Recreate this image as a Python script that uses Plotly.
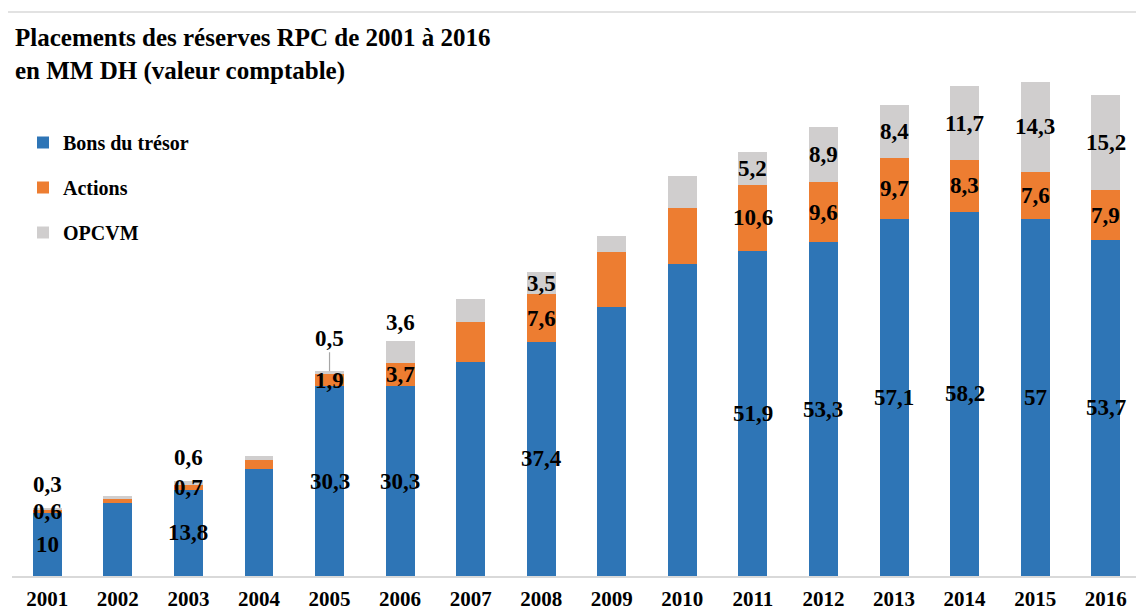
import plotly.graph_objects as go

years = [str(y) for y in range(2001, 2017)]
bons = [10, 11.6, 13.8, 17.1, 30.3, 30.3, 34.2, 37.4, 43.0, 49.9, 51.9, 53.3, 57.1, 58.2, 57, 53.7]
actions = [0.6, 0.7, 0.7, 1.4, 1.9, 3.7, 6.4, 7.6, 8.7, 8.9, 10.6, 9.6, 9.7, 8.3, 7.6, 7.9]
opcvm = [0.3, 0.5, 0.6, 0.7, 0.5, 3.6, 3.6, 3.5, 2.6, 5.1, 5.2, 8.9, 8.4, 11.7, 14.3, 15.2]

# which years carry data labels
labelled = [True, False, True, False, True, True, False, True, False, False, True, True, True, True, True, True]

series_names = ["Bons du trésor", "Actions", "OPCVM"]
colors = ["#2E75B6", "#ED7D31", "#D0CECE"]

FONT = "Liberation Serif"

fig = go.Figure()
for name, vals, col in zip(series_names, [bons, actions, opcvm], colors):
    fig.add_trace(go.Bar(
        x=years, y=vals, name=name, marker=dict(color=col, line=dict(width=0)),
        legendgroup=name, hoverinfo="x+y+name",
    ))

def fmt(v):
    return ("%g" % v).replace(".", ",")

# label offsets (pixels) for labels moved above the stack (style only)
above_shift = {"2001": 23, "2003": 24, "2005": 33, "2006": 18}

annotations = []
for i, yr in enumerate(years):
    if not labelled[i]:
        continue
    b, a, o = bons[i], actions[i], opcvm[i]
    annotations.append(dict(x=i, y=b / 2, text=fmt(b), showarrow=False))
    annotations.append(dict(x=i, y=b + a / 2, text=fmt(a), showarrow=False))
    top = b + a + o
    if yr in above_shift:
        if yr == "2005":
            annotations.append(dict(x=i, y=top, text=fmt(o), showarrow=True,
                                    arrowhead=0, arrowwidth=1.2, arrowcolor="#A6A6A6",
                                    ax=0, ay=-above_shift[yr], standoff=0))
        else:
            annotations.append(dict(x=i, y=top, text=fmt(o), showarrow=False,
                                    yshift=above_shift[yr]))
    else:
        annotations.append(dict(x=i, y=b + a + o / 2, text=fmt(o), showarrow=False))

for an in annotations:
    an.update(xref="x", yref="y", font=dict(family=FONT, size=23, color="black", weight="bold"))

PW = 1129  # plot width px
PH = 500   # plot height px

fig.update_layout(
    annotations=annotations,
    width=1144, height=609,
    margin=dict(l=4, r=11, t=68, b=41),
    paper_bgcolor="white", plot_bgcolor="white",
    barmode="stack", bargap=0.59,
    font=dict(family=FONT, color="black"),
    title=dict(text="Placements des réserves RPC de 2001 à 2016<br>en MM DH (valeur comptable)",
               x=7 / 1144, xanchor="left", xref="container",
               y=1 - 38 / 609, yanchor="top", yref="container",
               font=dict(family=FONT, size=25, color="black", weight="bold")),
    legend=dict(x=11 / PW, y=1 - 47 / PH, xanchor="left", yanchor="top",
                xref="paper", yref="paper",
                orientation="v", traceorder="grouped", tracegroupgap=16,
                font=dict(family=FONT, size=20, color="black", weight="bold"),
                bgcolor="rgba(0,0,0,0)", itemclick=False),
    xaxis=dict(type="category", range=[-0.5, 15.5], showgrid=False, showline=True,
               linecolor="#D9D9D9", linewidth=1.5, ticks="", ticklabelstandoff=3,
               tickfont=dict(family=FONT, size=21, color="black", weight="bold"),
               zeroline=False),
    yaxis=dict(range=[0, PH / 6.26], visible=False, showgrid=False, zeroline=False),
    shapes=[dict(type="rect", xref="paper", yref="paper",
                 x0=-6 / PW, x1=1.05, y0=-0.2, y1=1 + 64 / PH,
                 line=dict(color="#D9D9D9", width=1.5), fillcolor="rgba(0,0,0,0)", layer="below")],
)

fig.write_html("out.html")
